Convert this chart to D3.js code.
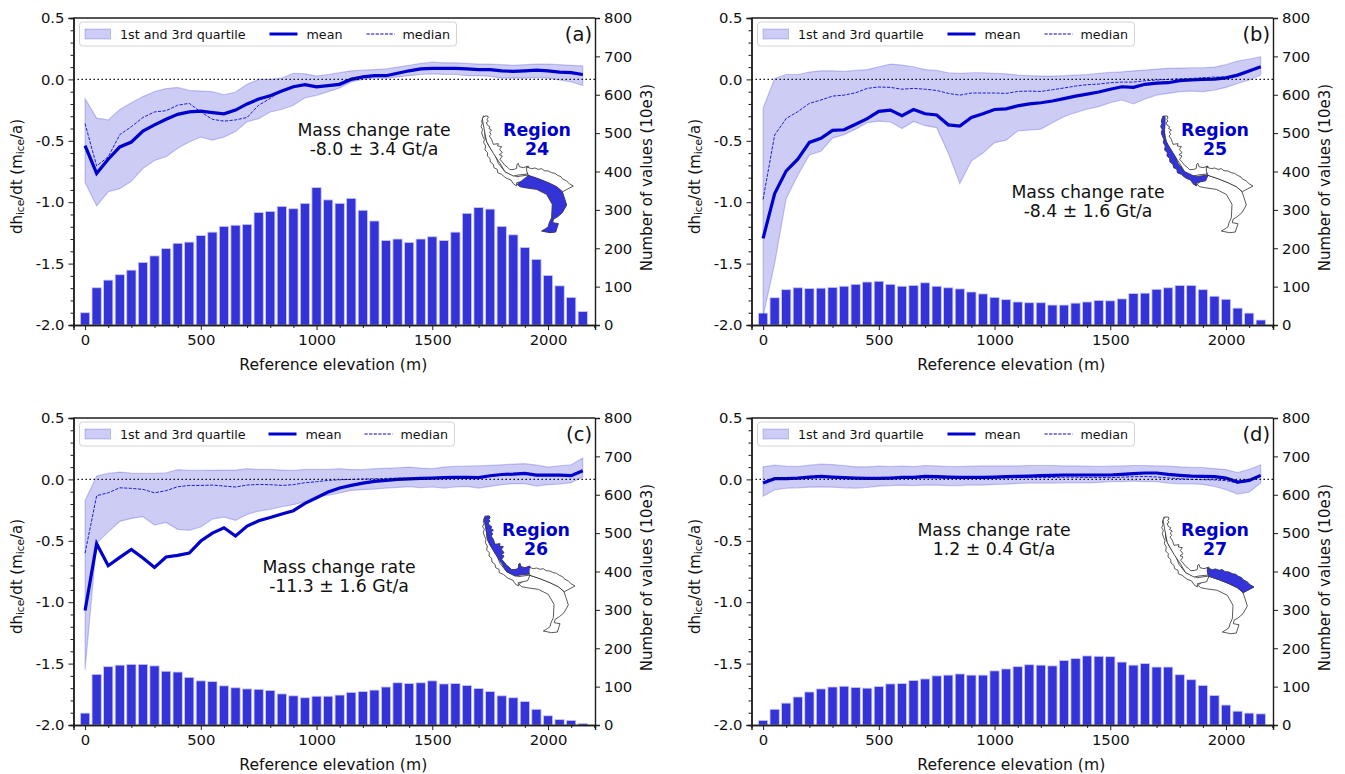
<!DOCTYPE html>
<html><head><meta charset="utf-8">
<script src="https://cdnjs.cloudflare.com/ajax/libs/d3/7.8.5/d3.min.js"></script>
<style>html,body{margin:0;padding:0;background:#fff}svg{display:block}text{font-family:"DejaVu Sans",sans-serif;fill:#111}</style>
</head><body><svg id="c" width="1345" height="774"></svg>
<script>
const elevations=[0,50,100,150,200,250,300,350,400,450,500,550,600,650,700,750,800,850,900,950,1000,1050,1100,1150,1200,1250,1300,1350,1400,1450,1500,1550,1600,1650,1700,1750,1800,1850,1900,1950,2000,2050,2100,2150];
const xTicks=[0,500,1000,1500,2000];
const leftTicks=[0.5,0,-0.5,-1,-1.5,-2];
const rightTicks=[0,100,200,300,400,500,600,700,800];

const countsA=[32,97,117,131,143,163,180,199,213,216,233,242,257,260,262,293,296,309,303,317,358,326,317,330,299,271,220,224,215,224,230,220,242,291,306,302,257,235,202,171,129,102,72,35];
const meanA=[-.54,-.765,-.65,-.55,-.51,-.42,-.37,-.325,-.285,-.265,-.258,-.27,-.28,-.25,-.2,-.16,-.133,-.095,-.06,-.043,-.06,-.05,-.04,0,.02,.03,.03,.05,.07,.085,.09,.09,.09,.085,.08,.08,.07,.065,.07,.075,.07,.06,.055,.04];
const medianA=[-.36,-.705,-.63,-.45,-.385,-.31,-.265,-.255,-.21,-.195,-.265,-.325,-.34,-.33,-.31,-.21,-.155,-.09,-.055,-.045,-.055,-.05,-.03,.01,.025,.03,.035,.05,.07,.085,.09,.09,.09,.085,.08,.08,.07,.065,.07,.07,.07,.06,.05,.035];
const q3A=[-.155,-.315,-.33,-.245,-.19,-.14,-.1,-.075,-.065,-.09,-.095,-.1,-.125,-.103,-.04,0,0,.01,.05,.045,.027,.04,.055,.07,.075,.08,.085,.1,.115,.13,.14,.135,.135,.13,.125,.125,.12,.115,.12,.125,.125,.12,.115,.11];
const q1A=[-.84,-1.03,-.915,-.89,-.83,-.725,-.66,-.63,-.56,-.51,-.47,-.495,-.47,-.425,-.345,-.32,-.265,-.245,-.21,-.15,-.13,-.1,-.07,-.02,0,.01,.01,.02,.03,.04,.045,.04,.04,.03,.03,.025,.01,.01,.01,.015,.01,-.005,-.02,-.05];

const countsB=[31,71,92,97,95,96,98,101,106,112,114,106,101,103,110,101,97,94,86,81,72,66,60,58,58,52,52,57,60,64,63,68,82,83,93,97,103,103,92,75,67,44,31,13];
const meanB=[-1.295,-.93,-.745,-.65,-.513,-.48,-.415,-.41,-.365,-.32,-.26,-.25,-.295,-.245,-.28,-.29,-.37,-.38,-.31,-.28,-.245,-.24,-.215,-.2,-.19,-.176,-.157,-.136,-.12,-.103,-.08,-.06,-.065,-.04,-.03,-.027,-.01,-.005,0,.003,.013,.035,.068,.103];
const medianB=[-.977,-.453,-.318,-.263,-.195,-.168,-.136,-.128,-.109,-.073,-.062,-.065,-.08,-.073,-.08,-.09,-.114,-.128,-.111,-.111,-.111,-.114,-.098,-.095,-.098,-.084,-.07,-.054,-.043,-.038,-.027,-.022,-.022,-.011,-.005,0,.005,.008,.013,.019,.019,.035,.068,.103];
const q3B=[-.235,.008,.04,.04,.06,.07,.07,.065,.073,.08,.103,.125,.117,.103,.08,.073,.054,.05,.054,.054,.05,.045,.035,.03,.027,.027,.03,.035,.04,.05,.057,.062,.07,.076,.084,.09,.092,.095,.095,.1,.12,.15,.165,.185];
const q1B=[-1.93,-1.5,-.97,-.78,-.615,-.585,-.478,-.45,-.405,-.353,-.34,-.347,-.4,-.342,-.377,-.393,-.6,-.847,-.665,-.6,-.515,-.495,-.42,-.413,-.405,-.353,-.304,-.27,-.242,-.222,-.19,-.168,-.2,-.16,-.128,-.114,-.1,-.095,-.1,-.087,-.065,-.033,-.005,.035];

const countsC=[31,132,152,156,158,158,154,140,138,124,115,113,102,97,94,93,90,81,76,71,75,75,78,85,87,91,99,110,108,110,115,107,108,103,95,87,76,71,61,41,24,14,12,4];
const meanC=[-1.067,-.524,-.703,-.635,-.57,-.64,-.717,-.632,-.619,-.6,-.502,-.437,-.394,-.461,-.38,-.337,-.31,-.282,-.255,-.195,-.149,-.103,-.07,-.049,-.03,-.016,-.008,0,.005,.008,.011,.014,.016,.016,.014,.03,.04,.043,.049,.035,.035,.035,.03,.07];
const medianC=[-.6,-.133,-.109,-.068,-.073,-.081,-.109,-.092,-.06,-.049,-.049,-.046,-.054,-.062,-.046,-.041,-.043,-.049,-.043,-.027,-.019,-.008,-.003,0,.003,.005,.008,.01,.01,.012,.014,.016,.016,.016,.016,.028,.038,.042,.048,.035,.033,.033,.028,.065];
const q3C=[-.171,.027,.049,.06,.052,.049,.049,.054,.079,.073,.073,.076,.076,.076,.087,.081,.081,.076,.073,.081,.081,.081,.087,.08,.079,.087,.09,.095,.1,.092,.087,.1,.106,.109,.111,.114,.119,.125,.128,.117,.1,.111,.119,.174];
const q1C=[-1.55,-.518,-.429,-.342,-.318,-.304,-.372,-.35,-.407,-.415,-.388,-.323,-.307,-.334,-.285,-.258,-.244,-.223,-.206,-.182,-.138,-.13,-.111,-.09,-.084,-.079,-.071,-.065,-.06,-.068,-.062,-.071,-.062,-.057,-.071,-.057,-.043,-.035,-.035,-.054,-.043,-.038,-.027,.019];

const countsD=[12,41,57,73,86,94,99,101,98,96,100,107,108,116,120,128,130,133,130,130,141,146,152,157,156,154,168,173,180,179,178,164,156,160,151,151,131,118,103,77,52,36,31,29];
const meanD=[-.03,.006,.006,.011,.019,.025,.019,.014,.011,.008,.008,.011,.016,.016,.025,.022,.019,.016,.016,.016,.019,.022,.025,.027,.03,.033,.036,.036,.036,.036,.036,.041,.047,.052,.052,.041,.033,.027,.025,.022,.011,-.022,-.008,.033];
const medianD=[-.022,.004,.004,.008,.012,.016,.013,.01,.008,.005,.005,.008,.01,.01,.014,.012,.01,.008,.008,.008,.01,.012,.014,.014,.016,.016,.018,.018,.016,.016,.014,.018,.022,.024,.02,.012,.005,0,-.002,-.004,-.01,-.03,-.014,.028];
const q3D=[.102,.116,.108,.105,.116,.124,.121,.113,.102,.102,.108,.105,.108,.105,.113,.11,.105,.105,.108,.11,.11,.11,.11,.113,.113,.113,.11,.11,.108,.105,.108,.11,.113,.113,.11,.108,.102,.099,.097,.088,.08,.055,.083,.119];
const q1D=[-.138,-.085,-.072,-.069,-.063,-.061,-.063,-.069,-.072,-.066,-.055,-.05,-.047,-.05,-.047,-.047,-.05,-.05,-.044,-.047,-.041,-.039,-.033,-.03,-.03,-.03,-.028,-.028,-.028,-.025,-.019,-.019,-.014,-.019,-.019,-.03,-.036,-.036,-.041,-.058,-.083,-.119,-.105,-.03];

const panelLabels=["(a)","(b)","(c)","(d)"];
const regionNames=["24","25","26","27"];
const massChange=["-8.0 ± 3.4 Gt/a","-8.4 ± 1.6 Gt/a","-11.3 ± 1.6 Gt/a","1.2 ± 0.4 Gt/a"];

// Inset map outlines, in map units
const region24=[[237,285],[252,272],[270,258],[300,268],[330,280],[355,292],[372,307],[378,325],[385,347],[372,370],[358,382],[345,390],[343,400],[360,403],[352,428],[335,430],[310,425],[322,418],[330,412],[333,400],[340,385],[342,345],[325,315],[295,300],[260,295],[245,292]];
const region25=[[135,80],[142,82],[142,107],[140,125],[140,144],[150,167],[170,197],[180,222],[200,247],[235,262],[270,257],[263,274],[235,280],[235,290],[225,283],[218,272],[205,267],[198,262],[190,255],[178,250],[177,240],[167,235],[165,225],[156,218],[155,207],[147,200],[148,190],[140,182],[142,170],[136,160],[138,150],[134,142],[130,130],[133,120],[128,112],[132,103],[130,95],[133,87]];
const region26=[[140,80],[148,80],[150,86],[146,90],[150,96],[144,100],[148,108],[155,112],[152,118],[160,122],[154,128],[158,135],[153,140],[160,150],[165,165],[180,163],[178,170],[190,172],[184,180],[192,190],[183,196],[192,200],[185,210],[192,218],[200,228],[208,234],[215,241],[228,240],[235,237],[236,225],[240,222],[243,232],[255,235],[270,230],[267,254],[240,257],[225,260],[200,247],[185,222],[165,192],[145,157],[138,122],[132,87]];
const region27=[[265,233],[280,238],[290,236],[300,240],[310,238],[318,244],[330,245],[340,250],[350,252],[358,258],[368,262],[372,268],[385,275],[393,283],[405,290],[373,307],[355,292],[330,280],[300,268],[270,258],[265,245]];
const regionShapes=[region24,region25,region26,region27];

const layouts=[
 {left:73.5,top:18,bottom:325,massX:374,massY:135,regX:537,regY:135,mapX:483.3,mapY:116,legW:377,meanX:196,medX:293,data:[countsA,meanA,medianA,q3A,q1A]},
 {left:751.5,top:18,bottom:325,massX:1088,massY:197,regX:1215,regY:135,mapX:1163,mapY:116,legW:377,meanX:196,medX:293,data:[countsB,meanB,medianB,q3B,q1B]},
 {left:73.5,top:418,bottom:725,massX:339,massY:572,regX:536,regY:535,mapX:485,mapY:516,legW:375,meanX:195,medX:291,data:[countsC,meanC,medianC,q3C,q1C]},
 {left:751.5,top:418,bottom:725,massX:994,massY:535,regX:1215,regY:535,mapX:1164,mapY:517,legW:377,meanX:196,medX:293,data:[countsD,meanD,medianD,q3D,q1D]}
];

const BLUE="#0000cd", DARK="#1c1c1c";
const svg=d3.select("#c");
const axW=521.5;
const hyphen=f=>v=>f(v).replace("\u2212","-");

layouts.forEach((L,i)=>{
  const [counts,mean,median,q3,q1]=L.data;
  const g=svg.append("g");
  const x=d3.scaleLinear().domain([-50,2203]).range([L.left,L.left+axW]);
  const y=d3.scaleLinear().domain([-2,.5]).range([L.bottom,L.top]);
  const yR=d3.scaleLinear().domain([0,800]).range([L.bottom,L.top]);
  const band=x(40)-x(0);

  g.append("g").selectAll("rect").data(counts).join("rect")
    .attr("x",(d,k)=>x(elevations[k])-band/2).attr("width",band)
    .attr("y",d=>yR(d)).attr("height",d=>yR(0)-yR(d))
    .attr("fill",BLUE).attr("fill-opacity",.8).attr("stroke","#c9c9f5").attr("stroke-width",.8);

  g.append("path").attr("d",d3.area().x((d,k)=>x(elevations[k])).y0((d,k)=>y(q1[k])).y1(d=>y(d))(q3))
    .attr("fill",BLUE).attr("fill-opacity",.2).attr("stroke",BLUE).attr("stroke-opacity",.2).attr("stroke-width",1.2);

  const line=d3.line().x((d,k)=>x(elevations[k])).y(d=>y(d));
  g.append("path").attr("d",line(median)).attr("fill","none").attr("stroke",BLUE).attr("stroke-opacity",.85).attr("stroke-width",1).attr("stroke-dasharray","3.2,1.4");
  g.append("path").attr("d",line(mean)).attr("fill","none").attr("stroke",BLUE).attr("stroke-width",3.2);
  g.append("line").attr("x1",L.left).attr("x2",L.left+axW).attr("y1",y(0)).attr("y2",y(0)).attr("stroke","#000").attr("stroke-width",1.4).attr("stroke-dasharray","1.4,2.6");

  // axes
  const bottom=g.append("g").attr("transform",`translate(0,${L.bottom})`).call(d3.axisBottom(x).tickValues(xTicks).tickFormat(d3.format("d")).tickSize(5).tickPadding(4));
  const botMinor=g.append("g").attr("transform",`translate(0,${L.bottom})`).call(d3.axisBottom(x).tickValues(d3.range(0,2201,100).filter(v=>v%500)).tickFormat("").tickSize(3));
  const left=g.append("g").attr("transform",`translate(${L.left},0)`).call(d3.axisLeft(y).tickValues(leftTicks).tickFormat(hyphen(d3.format(".1f"))).tickSize(5).tickPadding(4));
  const leftMinor=g.append("g").attr("transform",`translate(${L.left},0)`).call(d3.axisLeft(y).tickValues(d3.range(-19,5).map(v=>v/10).filter(v=>Math.abs(v*2-Math.round(v*2))>1e-6)).tickFormat("").tickSize(3));
  const right=g.append("g").attr("transform",`translate(${L.left+axW},0)`).call(d3.axisRight(yR).tickValues(rightTicks).tickFormat(d3.format("d")).tickSize(5).tickPadding(4));
  [bottom,botMinor,left,leftMinor,right].forEach(a=>{
    a.select(".domain").attr("stroke",DARK).attr("stroke-width",1.4);
    a.selectAll(".tick line").attr("stroke",DARK).attr("stroke-width",1);
    a.selectAll(".tick text").attr("font-size",14.8).attr("font-family",'"DejaVu Sans"').attr("fill","#111");
  });
  g.append("line").attr("x1",L.left).attr("x2",L.left+axW).attr("y1",L.top).attr("y2",L.top).attr("stroke",DARK).attr("stroke-width",1.4);

  // axis titles
  g.append("text").attr("x",L.left+axW/2-1).attr("y",L.bottom+45).attr("text-anchor","middle").attr("font-size",15.6).text("Reference elevation (m)");
  const yMid=(L.top+L.bottom)/2;
  const yl=g.append("text").attr("transform",`translate(${L.left-52},${yMid+5}) rotate(-90)`).attr("text-anchor","middle").attr("font-size",15);
  yl.append("tspan").text("dh");
  yl.append("tspan").attr("font-size",10.5).attr("dy",2.5).text("ice");
  yl.append("tspan").attr("dy",-2.5).text("/dt (m");
  yl.append("tspan").attr("font-size",10.5).attr("dy",2.5).text("ice");
  yl.append("tspan").attr("dy",-2.5).text("/a)");
  g.append("text").attr("transform",`translate(${L.left+axW+57},${yMid+6}) rotate(-90)`).attr("text-anchor","middle").attr("font-size",15).text("Number of values (10e3)");

  // legend
  const lg=g.append("g").attr("transform",`translate(${L.left+6},${L.top+4})`);
  lg.append("rect").attr("width",L.legW).attr("height",24).attr("rx",3).attr("fill","#fff").attr("fill-opacity",.8).attr("stroke","#d4d4d4");
  lg.append("rect").attr("x",5.5).attr("y",7).attr("width",25.5).attr("height",10).attr("fill",BLUE).attr("fill-opacity",.2).attr("stroke",BLUE).attr("stroke-opacity",.2);
  lg.append("text").attr("x",40.5).attr("y",16.5).attr("font-size",12.7).text("1st and 3rd quartile");
  lg.append("line").attr("x1",L.meanX-6).attr("x2",L.meanX+22).attr("y1",12).attr("y2",12).attr("stroke",BLUE).attr("stroke-width",3);
  lg.append("text").attr("x",L.meanX+31).attr("y",16.5).attr("font-size",12.7).text("mean");
  lg.append("line").attr("x1",L.medX-6).attr("x2",L.medX+22).attr("y1",12).attr("y2",12).attr("stroke",BLUE).attr("stroke-width",1).attr("stroke-dasharray","3.2,1.4");
  lg.append("text").attr("x",L.medX+30).attr("y",16.5).attr("font-size",12.7).text("median");

  // panel label and annotations
  g.append("text").attr("x",L.left+axW-3).attr("y",L.top+23).attr("text-anchor","end").attr("font-size",19.5).text(panelLabels[i]);
  g.append("text").attr("x",L.massX).attr("y",L.massY+1).attr("text-anchor","middle").attr("font-size",17.3).text("Mass change rate");
  g.append("text").attr("x",L.massX).attr("y",L.massY+20).attr("text-anchor","middle").attr("font-size",17.3).text(massChange[i]);
  g.append("text").attr("x",L.regX).attr("y",L.regY+1).attr("text-anchor","middle").attr("font-size",17.4).attr("font-weight","bold").style("fill",BLUE).text("Region");
  g.append("text").attr("x",L.regX).attr("y",L.regY+20).attr("text-anchor","middle").attr("font-size",17.4).attr("font-weight","bold").style("fill",BLUE).text(regionNames[i]);

  // inset map
  const mx=d3.scaleLinear().domain([135,405]).range([L.mapX,L.mapX+90]);
  const my=d3.scaleLinear().domain([80,430]).range([L.mapY,L.mapY+116.7]);
  const poly=d3.line().x(d=>mx(d[0])).y(d=>my(d[1])).curve(d3.curveLinearClosed);
  regionShapes.forEach(s=>g.append("path").attr("d",poly(s)).attr("fill","#fff").attr("stroke","#111").attr("stroke-width",.7));
  g.append("path").attr("d",poly(regionShapes[i])).attr("fill","#3333d7").attr("stroke","#222").attr("stroke-width",.3);
});
</script></body></html>
